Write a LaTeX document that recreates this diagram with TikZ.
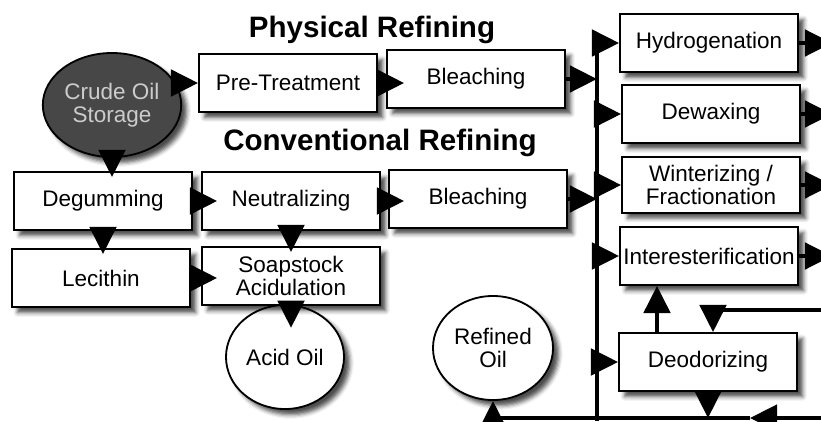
\documentclass[tikz,border=0pt]{standalone}
\usepackage{fontspec}
\setmainfont{Liberation Sans}
\usetikzlibrary{arrows.meta}
\usetikzlibrary{shapes.geometric}
\usetikzlibrary{shadows.blur}

\begin{document}
\begin{tikzpicture}[x=0.025cm,y=-0.025cm]
	\useasboundingbox (0,0) rectangle (821,421);
	\clip (0,0) rectangle (821,421);
	\tikzstyle{title}=[font=\fontsize{21}{24}\selectfont\bfseries]
	\tikzstyle{box}=[draw,line width=1.3pt,fill=white,minimum width=4.45cm,minimum height=1.45cm,align=center,inner sep=1pt,font=\fontsize{16}{16.5}\selectfont,blur shadow={shadow xshift=4pt,shadow yshift=-4pt,shadow blur radius=3pt,shadow opacity=70}]
	\tikzstyle{oil}=[box,ellipse,minimum width=2.95cm,minimum height=2.6cm]
	\tikzstyle{pipe}=[line width=2.8pt]
	\tikzstyle{flow}=[pipe,-{Triangle[length=0.68cm,width=0.66cm]}]
	\draw (372,30) node[title] (phys) {Physical Refining} (380,143) node[title] (conv) {Conventional Refining};
	% feed and refining lines
	\node[oil,fill=black!72,text=black!20] (crude) at (112,105) {Crude Oil\\Storage};
	\node[box] (pre) at (288,83) {Pre-Treatment};
	\node[box] (ble1) at (476,79) {Bleaching};
	\node[box] (deg) at (103,201) {Degumming};
	\node[box] (neu) at (291,201) {Neutralizing};
	\node[box] (ble2) at (478,199) {Bleaching};
	\node[box] (lec) at (101,278) {Lecithin};
	\node[oil] (acid) at (285,357) {Acid Oil};
	\node[box] (soap) at (291,276) {Soapstock\\Acidulation};
	\node[oil,minimum width=3cm] (refined) at (493,348) {Refined\\Oil};
	% modification column
	\node[box] (hyd) at (709,43) {Hydrogenation};
	\node[box] (dew) at (711,114) {Dewaxing};
	\node[box,minimum height=1.38cm] (win) at (711,185) {Winterizing /\\Fractionation};
	\node[box] (inter) at (709,256) {Interesterification};
	\node[box] (deo) at (708,362) {Deodorizing};
	\coordinate (bustop) at (597,36);
	\coordinate (busbot) at (597,421);
	\coordinate (outR) at (832,0);
	\coordinate (fbR) at (830,310);
	\coordinate (fbX) at (713,310);
	\coordinate (upX) at (657,333);
	\coordinate (botR) at (830,418);
	\coordinate (botM) at (750,418);
	\draw[flow] (crude.east |- pre.west) -- (pre.west);
	\draw[flow,shorten >=-0.45cm] (pre.east) -- (pre.east -| ble1.west);
	\draw[flow] (ble1.east) -- (ble1.east -| bustop);
	\draw[flow,shorten >=-0.15cm] (crude.south) -- (crude.south |- deg.north);
	\draw[flow,shorten >=-0.4cm] (deg.east) -- (neu.west);
	\draw[flow,shorten >=-0.4cm] (neu.east) -- (neu.east -| ble2.west);
	\draw[flow] (ble2.east) -- (ble2.east -| bustop);
	\draw[flow,shorten >=-0.15cm] (deg.south) -- (deg.south |- lec.north);
	\draw[flow,shorten >=-0.15cm] (neu.south) -- (neu.south |- soap.north);
	\draw[flow,shorten >=-0.4cm] (lec.east) -- (lec.east -| soap.west);
	\draw[flow,shorten >=0.73cm] (soap.south) -- (soap.south |- acid.center);
	\draw[pipe] (bustop) -- (busbot);
	\draw[flow] (hyd.west -| bustop) -- (hyd.west);
	\draw[flow] (dew.west -| bustop) -- (dew.west);
	\draw[flow] (win.west -| bustop) -- (win.west);
	\draw[flow] (inter.west -| bustop) -- (inter.west);
	\draw[flow] (deo.west -| bustop) -- (deo.west);
	\draw[flow] (hyd.east) -- (hyd.east -| outR);
	\draw[flow] (dew.east) -- (dew.east -| outR);
	\draw[flow] (win.east) -- (win.east -| outR);
	\draw[flow] (inter.east) -- (inter.east -| outR);
	\draw[flow] (fbR) -- (fbX) -- (fbX |- deo.north);
	\draw[flow] (upX) -- (upX |- inter.south);
	\draw[flow] (deo.south) -- (deo.south |- botR);
	\draw[flow] (botR) -- (botM);
	\draw[flow] (botM) -- (refined.south |- botM) -- (refined.south);
\end{tikzpicture}
\end{document}
